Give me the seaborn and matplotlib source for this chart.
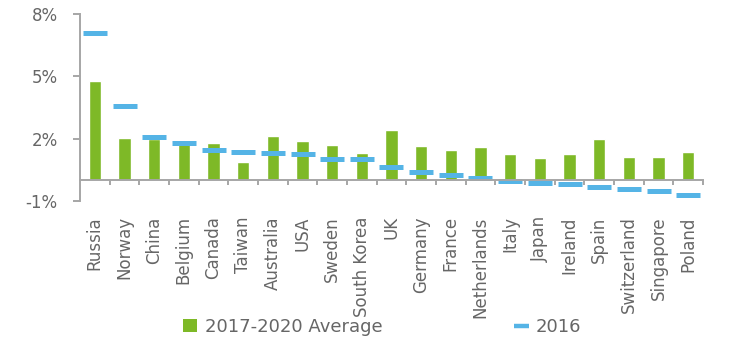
import matplotlib
matplotlib.use("Agg")
import matplotlib.pyplot as plt
from matplotlib.patches import Patch
from matplotlib.lines import Line2D
from matplotlib.ticker import FixedLocator
import seaborn as sns

# Growth by country: 2017-2020 average vs 2016 (%)
countries = ["Russia", "Norway", "China", "Belgium", "Canada", "Taiwan",
             "Australia", "USA", "Sweden", "South Korea", "UK", "Germany",
             "France", "Netherlands", "Italy", "Japan", "Ireland", "Spain",
             "Switzerland", "Singapore", "Poland"]
avg_2017_2020 = [4.78, 2.04, 2.00, 1.72, 1.77, 0.86, 2.12, 1.90, 1.70, 1.31,
                 2.43, 1.66, 1.45, 1.58, 1.24, 1.05, 1.24, 1.96, 1.11, 1.11,
                 1.37]
val_2016 = [7.10, 3.55, 2.10, 1.80, 1.44, 1.35, 1.31, 1.24, 1.00, 1.00,
            0.64, 0.40, 0.27, 0.10, -0.05, -0.13, -0.19, -0.35, -0.42, -0.53,
            -0.70]
y_ticks = [-1, 2, 5, 8]
y_tick_labels = ["-1%", "2%", "5%", "8%"]
legend_labels = ["2017-2020 Average", "2016"]

GREEN = "#7EB927"
BLUE = "#55B4E6"
TEXT = "#666666"
AXIS = "#A6A6A6"

sns.set_theme(style="white")
plt.rcParams["font.family"] = ["DejaVu Sans"]

fig = plt.figure(figsize=(7.3, 3.4), dpi=100)
ax = fig.add_axes([80 / 730, 1 - 201 / 340, 623 / 730, 187 / 340])

sns.barplot(x=countries, y=avg_2017_2020, color=GREEN, width=0.42,
            saturation=1, ax=ax)
sns.pointplot(x=countries, y=val_2016, color=BLUE, linestyle="none",
              marker="_", markersize=17.3, markeredgewidth=3.6, ax=ax)

ax.set_xlim(-0.5, len(countries) - 0.5)
ax.set_ylim(-1, 8)
ax.set_yticks(y_ticks)
ax.set_yticklabels(y_tick_labels)

# spines: category axis crosses at zero
for side in ("top", "right"):
    ax.spines[side].set_visible(False)
ax.spines["bottom"].set_position(("data", 0))
for side in ("left", "bottom"):
    ax.spines[side].set_color(AXIS)
    ax.spines[side].set_linewidth(1.4)

ax.tick_params(axis="y", which="major", direction="out", length=5,
               width=1.4, color=AXIS, labelsize=12, labelcolor=TEXT, pad=11,
               left=True)
ax.tick_params(axis="x", which="major", length=0, labelsize=12,
               labelcolor=TEXT, pad=26, rotation=90, bottom=True)
ax.xaxis.set_minor_locator(FixedLocator([i + 0.5 for i in range(len(countries))]))
ax.tick_params(axis="x", which="minor", direction="out", length=3.6,
               width=1.4, color=AXIS, bottom=True)
for lbl in ax.get_xticklabels():
    lbl.set_va("top")
ax.set_xlabel("")
ax.set_ylabel("")
ax.grid(False)

handles = [Patch(facecolor=GREEN, edgecolor="none"),
           Line2D([], [], color=BLUE, lw=3.2, solid_capstyle="butt")]
fig.legend(handles, legend_labels, loc="center left",
           bbox_to_anchor=(183 / 730, 1 - 327 / 340), ncol=2, frameon=False,
           fontsize=13, labelcolor=TEXT, handlelength=0.8, handleheight=0.75,
           handletextpad=0.4, columnspacing=7.3, borderaxespad=0,
           borderpad=0)

fig.savefig("out.png", dpi=100)
